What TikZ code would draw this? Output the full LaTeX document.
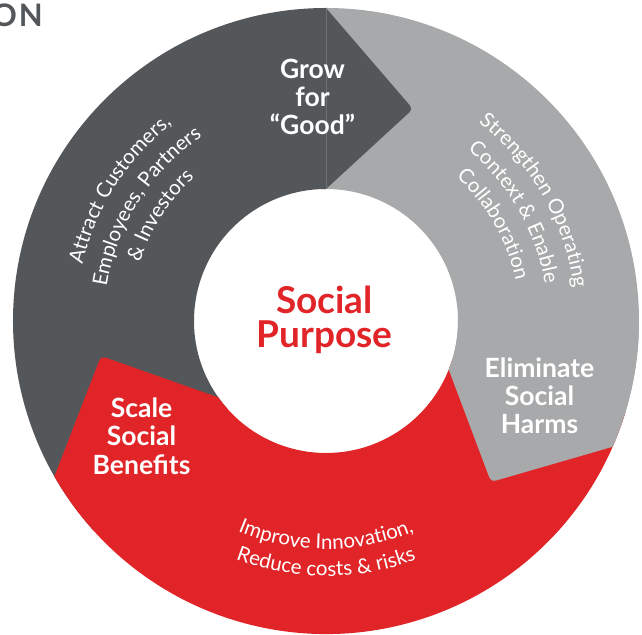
\documentclass[tikz,border=0pt]{standalone}
\usepackage{fontspec}
\setmainfont{Lato}
\usetikzlibrary{decorations.text,calc}
\definecolor{darkg}{HTML}{54575A}
\definecolor{lightg}{HTML}{A7A9AA}
\definecolor{redc}{HTML}{E12428}
\definecolor{sepg}{HTML}{6E7174}
\newcommand\arcsize{\fontsize{20.5}{20.5}\selectfont}
\tikzset{
  lbl/.style={text=white, font=\bfseries\fontsize{26.5}{28}\selectfont, anchor=base, inner sep=0pt},
  ctr/.style={text=redc, font=\bfseries\fontsize{37}{37}\selectfont, anchor=base, inner sep=0pt},
  arctext/.style={decorate, decoration={text along path, text align=center, text color=white, text={|\arcsize|#1}}},
  sepline/.style={draw=sepg, line width=0.6pt}
}
\begin{document}
\begin{tikzpicture}[x=1pt,y=1pt]
\useasboundingbox (-326,-313) rectangle (316,321);
% key points
\coordinate (DT) at (87,212);
\coordinate (GT) at (165,-161);
\coordinate (RT) at (-225,-35);
\coordinate (DO) at (90:313);
\coordinate (DI) at (90:132);
\coordinate (GO) at (-23.7:313);
\coordinate (GI) at (-21.6:132);
\coordinate (RO) at (-150.2:313);
\coordinate (RI) at (-144.6:132);
% gray segment
\def\graypath{(92:313) arc[start angle=92,end angle=-23.7,radius=313] -- ($(GT)!10pt!(GO)$) .. controls (GT) .. ($(GT)!10pt!(GI)$) -- (GI) arc[start angle=-21.6,end angle=92,radius=132] -- cycle}
\fill[lightg] \graypath;
% dark segment
\fill[darkg] (90:313) arc[start angle=90,end angle=222,radius=313] -- (222:132) arc[start angle=222,end angle=90,radius=132] -- ($(DT)!10pt!(DI)$) .. controls (DT) .. ($(DT)!10pt!(DO)$) -- cycle;
% red segment
\fill[redc] (-17:313) arc[start angle=-17,end angle=-150.2,radius=313] -- ($(RT)!10pt!(RO)$) .. controls (RT) .. ($(RT)!10pt!(RI)$) -- (RI) arc[start angle=-144.6,end angle=-17,radius=132] -- cycle;
% gray tip over red
\begin{scope}
\clip (-330,-320) rectangle (330,0);
\fill[lightg] \graypath;
\end{scope}
\draw[sepline] (DI) -- (DO);
% labels
\node[lbl] (g1) at (-13.5,242) {Grow};
\node[lbl] (g2) at (-13.5,214) {for};
\node[lbl] (g3) at (-13.5,186) {“Good”};
\node[lbl] (s1) at (-184.5,-96) {Scale};
\node[lbl] (s2) at (-184.5,-124.5) {Social};
\node[lbl] (s3) at (-184.5,-153) {Benefits};
\node[lbl] (e1) at (213.5,-56) {Eliminate};
\node[lbl] (e2) at (213.5,-84) {Social};
\node[lbl] (e3) at (213.5,-112) {Harms};
\node[ctr] (p1) at (-1.5,8) {Social};
\node[ctr] (p2) at (-1.5,-26) {Purpose};
\node[anchor=base east, inner sep=0pt, text=darkg, font=\bfseries\fontsize{31}{31}\selectfont] (on) at (-283,294) {O\kern2pt N};
% curved texts
\path[arctext={Attract Customers,}] (197.5:250) arc[start angle=197.5,end angle=97.5,radius=250];
\path[arctext={Employees, Partners}] (197.5:222) arc[start angle=197.5,end angle=97.5,radius=222];
\path[arctext={{\&} Investors}] (197.5:195) arc[start angle=197.5,end angle=97.5,radius=195];
\path[arctext={Strengthen Operating}] (80:250) arc[start angle=80,end angle=-20,radius=250];
\path[arctext={Context {\&} Enable}] (80:222) arc[start angle=80,end angle=-20,radius=222];
\path[arctext={Collaboration}] (80:194) arc[start angle=80,end angle=-20,radius=194];
\path[arctext={Improve Innovation,}] (-150:228) arc[start angle=-150,end angle=-30,radius=228];
\path[arctext={Reduce costs {\&} risks}] (-150:255) arc[start angle=-150,end angle=-30,radius=255];
\end{tikzpicture}
\end{document}
